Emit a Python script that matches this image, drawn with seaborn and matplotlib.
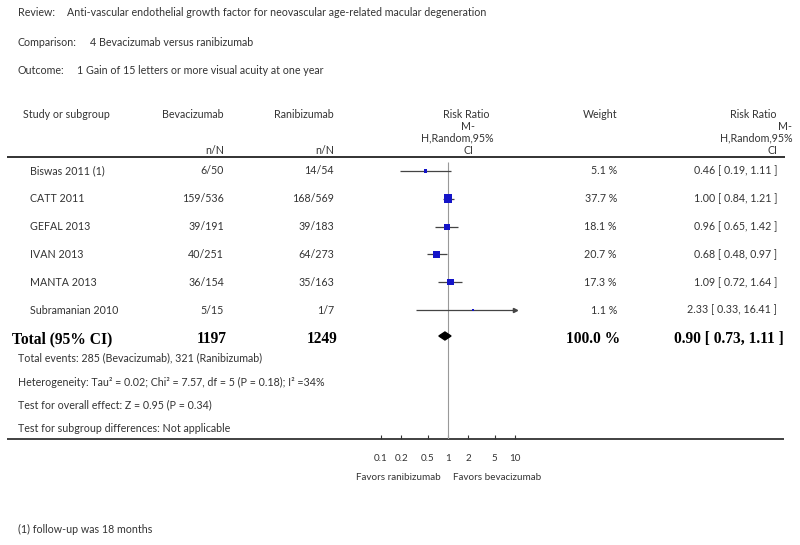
import numpy as np
import pandas as pd
import matplotlib
matplotlib.use("Agg")
import matplotlib.pyplot as plt
from matplotlib.ticker import NullLocator
import seaborn as sns

# Forest plot: bevacizumab vs ranibizumab, gain of >= 15 letters at one year

studies = ["Biswas 2011 (1)", "CATT 2011", "GEFAL 2013", "IVAN 2013",
           "MANTA 2013", "Subramanian 2010"]
bev_events = [6, 159, 39, 40, 36, 5]
bev_total = [50, 536, 191, 251, 154, 15]
ran_events = [14, 168, 39, 64, 35, 1]
ran_total = [54, 569, 183, 273, 163, 7]
weights = [5.1, 37.7, 18.1, 20.7, 17.3, 1.1]
risk_ratio = [0.46, 1.00, 0.96, 0.68, 1.09, 2.33]
ci_low = [0.19, 0.84, 0.65, 0.48, 0.72, 0.33]
ci_high = [1.11, 1.21, 1.42, 0.97, 1.64, 16.41]

total_bev, total_ran = 1197, 1249
total_weight = 100.0
total_rr, total_low, total_high = 0.90, 0.73, 1.11

ticks = [0.1, 0.2, 0.5, 1, 2, 5, 10]
tick_labels = ["0.1", "0.2", "0.5", "1", "2", "5", "10"]

header_lines = [
    ("Review:", "Anti-vascular endothelial growth factor for neovascular age-related macular degeneration", 67),
    ("Comparison:", "4 Bevacizumab versus ranibizumab", 90),
    ("Outcome:", "1 Gain of 15 letters or more visual acuity at one year", 77),
]
footer_lines = [
    "Total events: 285 (Bevacizumab), 321 (Ranibizumab)",
    "Heterogeneity: Tau² = 0.02; Chi² = 7.57, df = 5 (P = 0.18); I² =34%",
    "Test for overall effect: Z = 0.95 (P = 0.34)",
    "Test for subgroup differences: Not applicable",
]
footnote = "(1) follow-up was 18 months"

df = pd.DataFrame({"study": studies, "rr": risk_ratio, "lo": ci_low,
                   "hi": ci_high, "weight": weights})
df["y"] = 171 + np.arange(len(df)) * 27.8

sns.set_theme(style="white")
plt.rcParams["font.family"] = ["Lato", "DejaVu Sans"]

TXT = "#333333"
BLUE = "#1414c8"
FS = 7.7
W, H = 800, 545

fig = plt.figure(figsize=(8, 5.45), dpi=100)
ax = fig.add_axes([0, 0, 1, 1])
ax.set_xlim(0, W)
ax.set_ylim(H, 0)
ax.axis("off")

# header block
for (lab, val, xv), y in zip(header_lines, [13, 42, 71]):
    ax.text(18, y, lab, fontsize=FS, color=TXT, va="center")
    ax.text(xv, y, val, fontsize=FS, color=TXT, va="center")

# column headings
ax.text(23, 114, "Study or subgroup", fontsize=FS, color=TXT, va="center")
ax.text(224, 114, "Bevacizumab", fontsize=FS, color=TXT, va="center", ha="right")
ax.text(334, 114, "Ranibizumab", fontsize=FS, color=TXT, va="center", ha="right")
ax.text(224, 150, "n/N", fontsize=FS, color=TXT, va="center", ha="right")
ax.text(334, 150, "n/N", fontsize=FS, color=TXT, va="center", ha="right")
for txt, xc, y in [("Risk Ratio", 466, 114), ("M-", 468, 126),
                   ("H,Random,95%", 457, 138), ("CI", 469, 150)]:
    ax.text(xc, y, txt, fontsize=FS, color=TXT, va="center", ha="center")
ax.text(617, 114, "Weight", fontsize=FS, color=TXT, va="center", ha="right")
for txt, xr, y in [("Risk Ratio", 777, 114), ("M-", 792, 126),
                   ("H,Random,95%", 793, 138), ("CI", 778, 150)]:
    ax.text(xr, y, txt, fontsize=FS, color=TXT, va="center", ha="right")

ax.hlines(157, 7, 785, color="#222222", lw=1.3)
ax.hlines(439, 7, 784, color="#333333", lw=1.3)

# study rows
for i, row in df.iterrows():
    y = row["y"]
    ax.text(30, y, row["study"], fontsize=FS, color=TXT, va="center")
    ax.text(224, y, f"{bev_events[i]}/{bev_total[i]}", fontsize=FS, color=TXT, va="center", ha="right")
    ax.text(334, y, f"{ran_events[i]}/{ran_total[i]}", fontsize=FS, color=TXT, va="center", ha="right")
    ax.text(617, y, f"{row['weight']:.1f} %", fontsize=FS, color=TXT, va="center", ha="right")
    ax.text(777, y, f"{row['rr']:.2f} [ {row['lo']:.2f}, {row['hi']:.2f} ]",
            fontsize=FS, color=TXT, va="center", ha="right")

# total row
ty = 339
bold = dict(fontsize=11.2, color="black", va="center", fontweight="bold",
            family="Liberation Serif")
ax.text(12, ty, "Total (95% CI)", **bold)
ax.text(227, ty, f"{total_bev}", ha="right", **bold)
ax.text(337, ty, f"{total_ran}", ha="right", **bold)
ax.text(620, ty, f"{total_weight:.1f} %", ha="right", **bold)
ax.text(784, ty, f"{total_rr:.2f} [ {total_low:.2f}, {total_high:.2f} ]", ha="right", **bold)

for txt, y in zip(footer_lines, [358, 382, 405, 428]):
    ax.text(18, y, txt, fontsize=FS, color=TXT, va="center")
ax.text(18, 529, footnote, fontsize=FS, color=TXT, va="center")

# forest panel (log scale, 1 at x=448 px)
fx = fig.add_axes([314 / W, (H - 439) / H, 268 / W, 439 / H])
fx.set_xscale("log")
fx.set_xlim(0.01, 100)
fx.set_ylim(439, 0)
fx.patch.set_alpha(0)
for s in fx.spines.values():
    s.set_visible(False)
fx.set_xticks(ticks)
fx.set_xticklabels(tick_labels)
fx.xaxis.set_minor_locator(NullLocator())
fx.set_yticks([])
fx.tick_params(axis="x", bottom=True, direction="in", length=3, width=0.8,
               color="#333333", labelsize=FS - 0.6, labelcolor=TXT, pad=11)

fx.vlines(1, 162, 439, color="#999999", lw=0.8, zorder=1)
shown_hi = np.minimum(df["hi"], ticks[-1])
fx.hlines(df["y"], df["lo"], shown_hi, color="#444444", lw=0.9, zorder=2)
clipped = df[df["hi"] > ticks[-1]]
fx.plot(np.full(len(clipped), ticks[-1]), clipped["y"], ls="none", marker=">",
        ms=3, color="#444444", zorder=2)
sns.scatterplot(data=df, x="rr", y="y", size="weight", sizes=(2.0, 40),
                size_norm=(1.1, 37.7), marker="s", color=BLUE, linewidth=0,
                legend=False, ax=fx, zorder=3)
fx.fill([total_low, total_rr, total_high, total_rr], [336, 332, 336, 340],
        color="black", zorder=3)
fx.set_xlabel("")
fx.set_ylabel("")

ax.text(398, 477, "Favors ranibizumab", fontsize=FS - 0.6, color=TXT, va="center", ha="center")
ax.text(497, 477, "Favors bevacizumab", fontsize=FS - 0.6, color=TXT, va="center", ha="center")

fig.savefig("out.png", dpi=100)
